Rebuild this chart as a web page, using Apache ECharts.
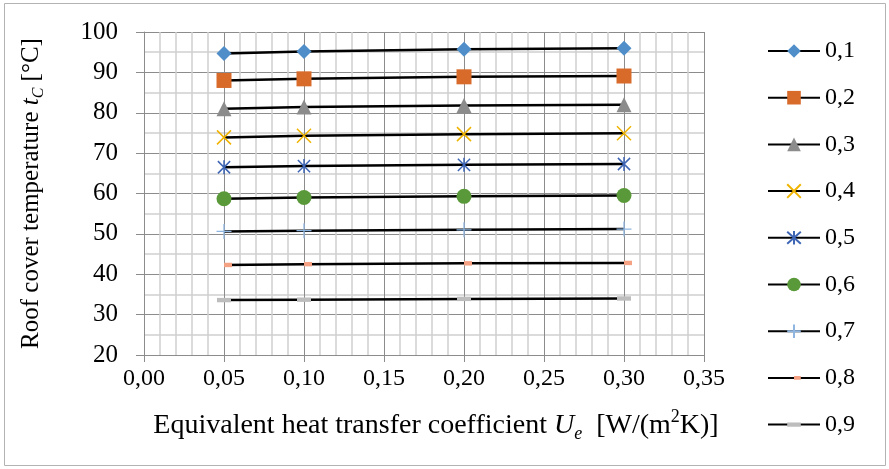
<!DOCTYPE html>
<html>
<head>
<meta charset="utf-8">
<script src="https://cdn.jsdelivr.net/npm/echarts@6/dist/echarts.min.js"></script>
<style>
  html, body { margin: 0; padding: 0; background: #fff; }
  #myChart { width: 889px; height: 469px; }
</style>
</head>
<body>
<div id="myChart"></div>
<script>
// x positions of the calculated points (Ue)
var ueValues = [0.05, 0.10, 0.20, 0.30];
var xTicks = [0, 0.05, 0.10, 0.15, 0.20, 0.25, 0.30, 0.35];
var yTicks = [20, 30, 40, 50, 60, 70, 80, 90, 100];
var seriesNames = ["0,1", "0,2", "0,3", "0,4", "0,5", "0,6", "0,7", "0,8", "0,9"];

// roof cover temperature tC for each value
var t01 = [94.7, 95.2, 95.7, 96.0];
var t02 = [88.0, 88.4, 88.9, 89.1];
var t03 = [81.0, 81.4, 81.8, 82.0];
var t04 = [73.9, 74.3, 74.7, 74.9];
var t05 = [66.5, 66.8, 67.1, 67.3];
var t06 = [58.7, 59.0, 59.3, 59.5];
var t07 = [50.6, 50.8, 51.0, 51.2];
var t08 = [42.3, 42.5, 42.7, 42.8];
var t09 = [33.6, 33.7, 33.9, 34.0];
var allValues = [t01, t02, t03, t04, t05, t06, t07, t08, t09];

var FONT = "Liberation Serif";

// marker look for each series
// (the dash markers carry invisible corner points so the legend keeps them flat)
var markers = [
  { symbol: "diamond", size: 15, color: "#4f8ec9", stroke: 0 },
  { symbol: "rect", size: 15, color: "#d86a2a", stroke: 0 },
  { symbol: "triangle", size: 15, color: "#8c8c8c", stroke: 0 },
  { symbol: "path://M-7,-7L7,7M-7,7L7,-7", size: 14, color: "#f0b400", stroke: 1.5 },
  { symbol: "path://M-7,-7L7,7M-7,7L7,-7M0,-8L0,8", size: 14, color: "#3e66b5", stroke: 1.5 },
  { symbol: "circle", size: 15, color: "#5a993a", stroke: 0 },
  { symbol: "path://M-7,0L7,0M0,-7L0,7", size: 15, color: "#8fb6e0", stroke: 1.3 },
  { symbol: "path://M-8,-8L-8,-8M8,8L8,8M0,-2.2h8v4.4h-8z", size: 16, color: "#f4a184", stroke: 0 },
  { symbol: "path://M-7,-7L-7,-7M7,7L7,7M-7,-2.2h14v4.4h-14z", size: 14, color: "#bdbdbd", stroke: 0 }
];

function fmtComma(v) {
  return v.toFixed(2).replace(".", ",");
}

var series = seriesNames.map(function (name, i) {
  var m = markers[i];
  return {
    name: name,
    type: "line",
    data: ueValues.map(function (u, j) { return [u, allValues[i][j]]; }),
    symbol: m.symbol,
    symbolSize: m.size,
    symbolKeepAspect: true,
    showSymbol: true,
    lineStyle: { color: "#000", width: 2.5 },
    itemStyle: {
      color: m.color,
      borderColor: m.color,
      borderWidth: m.stroke
    },
    emphasis: { disabled: true },
    z: 3
  };
});

var myChart = echarts.init(document.getElementById("myChart"));
myChart.setOption({
  animation: false,
  textStyle: { fontFamily: FONT },
  graphic: [
    {
      type: "rect",
      shape: { x: 4.5, y: 3.5, width: 881, height: 462 },
      style: { fill: "none", stroke: "#b3b3b3", lineWidth: 1 },
      silent: true
    }
  ],
  grid: {
    left: 144,
    top: 32,
    right: 185,
    bottom: 114,
    outerBoundsMode: "none",
    containLabel: false
  },
  legend: {
    orient: "vertical",
    left: 762,
    top: 34,
    itemWidth: 52,
    itemHeight: 17,
    itemGap: 22.7,
    data: seriesNames,
    textStyle: { fontFamily: FONT, fontSize: 24, color: "#000" }
  },
  xAxis: {
    type: "value",
    min: xTicks[0],
    max: xTicks[xTicks.length - 1],
    interval: 0.05,
    name: "Equivalent heat transfer coefficient {i|U}{sub|e}  [W/(m{sup|2}K)]",
    nameLocation: "middle",
    nameGap: 53,
    nameTextStyle: {
      fontFamily: FONT,
      fontSize: 28,
      color: "#000",
      padding: [0, 0, 0, 24],
      lineHeight: 35,
      rich: {
        i: { fontFamily: FONT, fontSize: 28, fontStyle: "italic", color: "#000", lineHeight: 35 },
        sub: { fontFamily: FONT, fontSize: 18, fontStyle: "italic", color: "#000", verticalAlign: "bottom", lineHeight: 20 },
        sup: { fontFamily: FONT, fontSize: 18, color: "#000", verticalAlign: "top", lineHeight: 20 }
      }
    },
    axisLine: { show: true, lineStyle: { color: "#8c8c8c", width: 1 } },
    axisTick: { show: true, inside: false, length: 7, lineStyle: { color: "#8c8c8c" } },
    axisLabel: {
      fontFamily: FONT,
      fontSize: 24,
      color: "#000",
      margin: 12,
      formatter: fmtComma
    },
    splitLine: { show: true, lineStyle: { color: "#8c8c8c", width: 1 } },
    minorTick: { show: false, splitNumber: 5 },
    minorSplitLine: { show: true, lineStyle: { color: "#cfcfcf", width: 1.5 } }
  },
  yAxis: {
    type: "value",
    min: yTicks[0],
    max: yTicks[yTicks.length - 1],
    interval: 10,
    name: "Roof cover temperature {i|t}{sub|C} [°C]",
    nameLocation: "middle",
    nameGap: 97,
    nameTextStyle: {
      fontFamily: FONT,
      fontSize: 25,
      color: "#000",
      lineHeight: 32,
      rich: {
        i: { fontFamily: FONT, fontSize: 25, fontStyle: "italic", color: "#000", lineHeight: 32 },
        sub: { fontFamily: FONT, fontSize: 16, fontStyle: "italic", color: "#000", verticalAlign: "bottom", lineHeight: 18 }
      }
    },
    axisLine: { show: true, lineStyle: { color: "#8c8c8c", width: 1 } },
    axisTick: { show: true, inside: false, length: 8, lineStyle: { color: "#8c8c8c" } },
    axisLabel: {
      fontFamily: FONT,
      fontSize: 25,
      color: "#000",
      margin: 26
    },
    splitLine: { show: true, lineStyle: { color: "#8c8c8c", width: 1 } },
    minorTick: { show: false, splitNumber: 2 },
    minorSplitLine: { show: true, lineStyle: { color: "#cfcfcf", width: 1.5 } }
  },
  series: series
});
</script>
</body>
</html>
